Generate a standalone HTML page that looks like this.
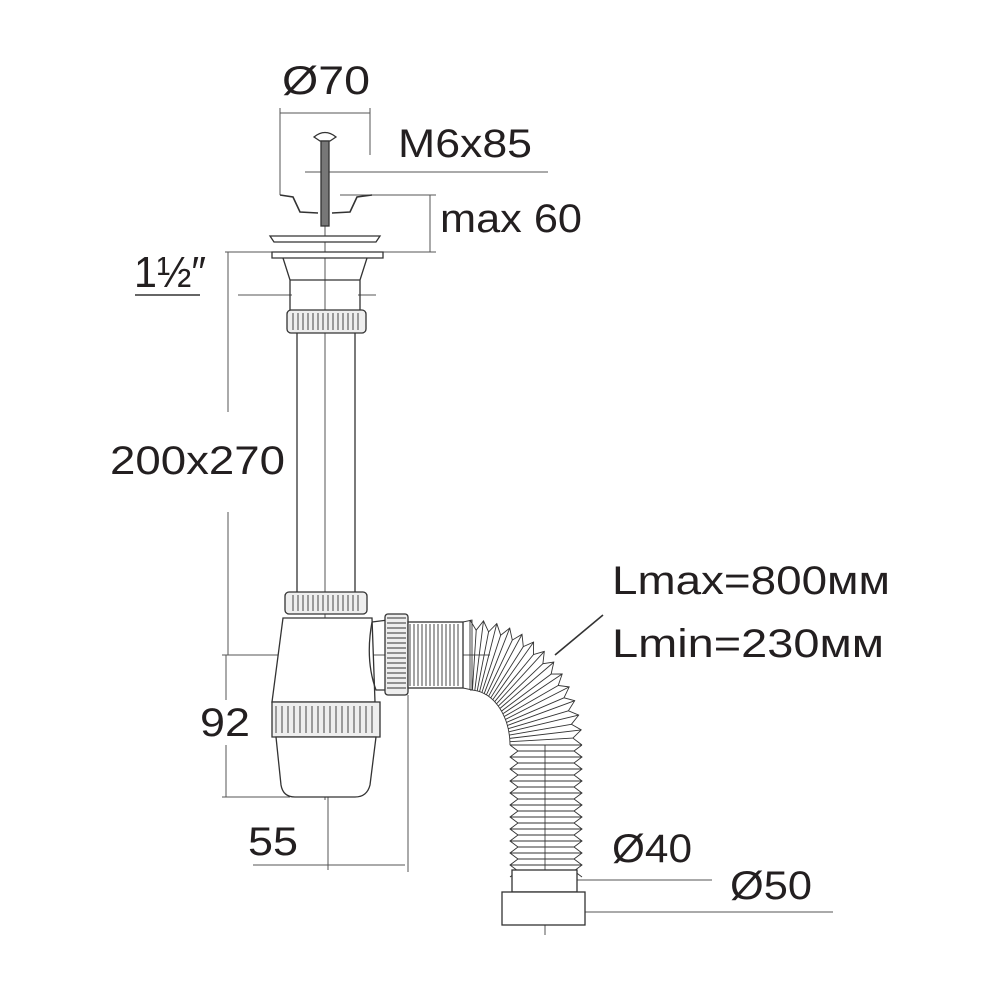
<!DOCTYPE html>
<html><head><meta charset="utf-8"><style>
html,body{margin:0;padding:0;background:#fff}
svg{display:block}
text{font-family:"Liberation Sans",sans-serif;fill:#231f20}
</style></head><body>
<svg id="s" width="1000" height="1000" viewBox="0 0 1000 1000" xmlns="http://www.w3.org/2000/svg">
<g fill="none" stroke="#333" stroke-width="1.3">
<g stroke="#555" stroke-width="1">
<line x1="280" y1="113" x2="370" y2="113"/>
<line x1="280" y1="108" x2="280" y2="195"/>
<line x1="370" y1="108" x2="370" y2="155"/>
<line x1="305" y1="172" x2="548" y2="172"/>
<line x1="340" y1="195" x2="436" y2="195"/>
<line x1="430" y1="195" x2="430" y2="252"/>
<line x1="225" y1="252" x2="436" y2="252"/>
<line x1="228" y1="252" x2="228" y2="412"/>
<line x1="228" y1="512" x2="228" y2="655"/>
<line x1="238" y1="295" x2="292" y2="295"/>
<line x1="358" y1="295" x2="376" y2="295"/>
<line x1="222" y1="655" x2="490" y2="655"/>
<line x1="226" y1="655" x2="226" y2="700"/>
<line x1="226" y1="745" x2="226" y2="797"/>
<line x1="222" y1="797" x2="290" y2="797"/>
<line x1="328" y1="790" x2="328" y2="870"/>
<line x1="408" y1="695" x2="408" y2="872"/>
<line x1="253" y1="865" x2="405" y2="865"/>
<line x1="577" y1="880" x2="712" y2="880"/>
<line x1="585" y1="912" x2="833" y2="912"/>
<line x1="325" y1="225" x2="325" y2="800"/>
<line x1="545" y1="745" x2="545" y2="935"/>
</g>
<line x1="603" y1="615" x2="555" y2="655" stroke-width="1.6"/>
<path d="M314 137 Q325 128 336 137 L330 141 L320 141 Z" fill="#fff"/>
<rect x="321" y="141" width="8" height="85" fill="#777"/>
<path d="M280 195 L293 197 L300 212 L318 213 M332 213 L350 212 L357 197 L372 195" stroke-width="1.6"/>
<path d="M270 236 L380 236 L376 242 L274 242 Z" fill="#fff"/>
<path d="M272 252 L383 252 L383 258 L272 258 Z" fill="#fff"/>
<path d="M283 258 L290 280 L290 310 M367 258 L360 280 L360 310"/>
<line x1="290" y1="280" x2="360" y2="280"/>
<rect x="287" y="310" width="79" height="23" rx="4" fill="#eee"/>
<line x1="297" y1="333" x2="297" y2="592"/>
<line x1="355" y1="333" x2="355" y2="592"/>
<rect x="285" y="592" width="82" height="22" rx="4" fill="#eee"/>
<path d="M283 618 L372 618 L375 702 L272 702 Z" fill="#fff"/>
<path d="M272 702 L380 702 L380 737 L272 737 Z" fill="#eee"/>
<path d="M276 737 L376 737 L370 785 Q367 797 355 797 L295 797 Q283 797 281 785 Z" fill="#fff"/>
<path d="M372 622 L388 620 L388 690 L376 690 Q365 660 372 622"/>
<rect x="385" y="614" width="23" height="81" rx="3" fill="#eee"/>
<rect x="408" y="622" width="55" height="66" fill="#fff"/>
<g id="ribs" stroke-width="0.9"></g>
<rect x="512" y="870" width="65" height="22" fill="#fff"/>
<rect x="502" y="892" width="83" height="33" fill="#fff"/>
</g>
<g font-size="40">
<text x="282" y="94" textLength="88" lengthAdjust="spacingAndGlyphs">Ø70</text>
<text x="398" y="157" textLength="134" lengthAdjust="spacingAndGlyphs">M6x85</text>
<text x="440" y="232" textLength="142" lengthAdjust="spacingAndGlyphs">max 60</text>
<text x="134" y="287" font-size="44" textLength="72" lengthAdjust="spacingAndGlyphs">1½″</text>
<text x="110" y="474" textLength="175" lengthAdjust="spacingAndGlyphs">200x270</text>
<text x="200" y="736" textLength="50" lengthAdjust="spacingAndGlyphs">92</text>
<text x="248" y="855" textLength="50" lengthAdjust="spacingAndGlyphs">55</text>
<text x="612" y="594" textLength="278" lengthAdjust="spacingAndGlyphs">Lmax=800мм</text>
<text x="612" y="657" textLength="272" lengthAdjust="spacingAndGlyphs">Lmin=230мм</text>
<text x="612" y="862" textLength="80" lengthAdjust="spacingAndGlyphs">Ø40</text>
<text x="730" y="899" textLength="82" lengthAdjust="spacingAndGlyphs">Ø50</text>
</g>
<line x1="135" y1="295" x2="200" y2="295" stroke="#333" stroke-width="1.6"/>
</svg>
<script>
var g=document.getElementById('ribs'),ns='http://www.w3.org/2000/svg';
function L(a,b,c,d,w){var l=document.createElementNS(ns,'line');l.setAttribute('x1',a);l.setAttribute('y1',b);l.setAttribute('x2',c);l.setAttribute('y2',d);if(w)l.setAttribute('stroke-width',w);g.appendChild(l);}
function P(d,f){var p=document.createElementNS(ns,'path');p.setAttribute('d',d);if(f)p.setAttribute('fill',f);g.appendChild(p);}
for(var y=618;y<692;y+=5)L(387,y,406,y);
for(var x=293;x<362;x+=5){L(x,313,x,330);L(x,595,x,611);}
for(var x=276;x<378;x+=6)L(x,706,x,733);
for(var x=410;x<462;x+=4)L(x,624,x,686);
P('M463 622 L472 620 L472 690 L463 688');
var cx=470,cy=745,N=26,o='',i='';
for(var k=0;k<=N;k++){var t=k/N*Math.PI/2,f=(k%2?0.92:1);
var ox=cx+112*Math.sin(t)*f,oy=cy-125*Math.cos(t)*f;
var ix=cx+40*Math.sin(t),iy=cy-55*Math.cos(t);
o+=(k?'L':'M')+ox.toFixed(1)+' '+oy.toFixed(1);
i+=(k?'L':'M')+ix.toFixed(1)+' '+iy.toFixed(1);
L(ix,iy,ox,oy);}
P(o);P(i);
var d1='M510 745',d2='M582 745';
for(var y=745;y<870;y+=12){d1+=' L518 '+(y+6)+' L510 '+(y+12);d2+=' L574 '+(y+6)+' L582 '+(y+12);L(510,y,582,y);L(518,y+6,574,y+6);}
P(d1);P(d2);
</script>
</body></html>
